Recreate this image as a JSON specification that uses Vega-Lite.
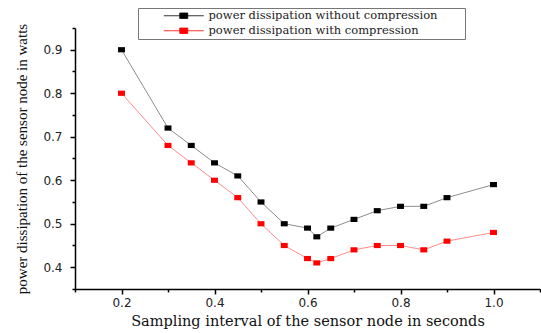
{
  "$schema": "https://vega.github.io/schema/vega-lite/v6.json",
  "width": 465,
  "height": 261,
  "autosize": "none",
  "padding": {"left": 75, "top": 28, "right": 1, "bottom": 44},
  "background": "white",
  "config": {"view": {"stroke": null}},
  "data": {
    "values": [
      {"interval": 0.2, "power": 0.9, "series": "power dissipation without compression"},
      {"interval": 0.3, "power": 0.72, "series": "power dissipation without compression"},
      {"interval": 0.35, "power": 0.68, "series": "power dissipation without compression"},
      {"interval": 0.4, "power": 0.64, "series": "power dissipation without compression"},
      {"interval": 0.45, "power": 0.61, "series": "power dissipation without compression"},
      {"interval": 0.5, "power": 0.55, "series": "power dissipation without compression"},
      {"interval": 0.55, "power": 0.5, "series": "power dissipation without compression"},
      {"interval": 0.6, "power": 0.49, "series": "power dissipation without compression"},
      {"interval": 0.62, "power": 0.47, "series": "power dissipation without compression"},
      {"interval": 0.65, "power": 0.49, "series": "power dissipation without compression"},
      {"interval": 0.7, "power": 0.51, "series": "power dissipation without compression"},
      {"interval": 0.75, "power": 0.53, "series": "power dissipation without compression"},
      {"interval": 0.8, "power": 0.54, "series": "power dissipation without compression"},
      {"interval": 0.85, "power": 0.54, "series": "power dissipation without compression"},
      {"interval": 0.9, "power": 0.56, "series": "power dissipation without compression"},
      {"interval": 1.0, "power": 0.59, "series": "power dissipation without compression"},
      {"interval": 0.2, "power": 0.8, "series": "power dissipation with compression"},
      {"interval": 0.3, "power": 0.68, "series": "power dissipation with compression"},
      {"interval": 0.35, "power": 0.64, "series": "power dissipation with compression"},
      {"interval": 0.4, "power": 0.6, "series": "power dissipation with compression"},
      {"interval": 0.45, "power": 0.56, "series": "power dissipation with compression"},
      {"interval": 0.5, "power": 0.5, "series": "power dissipation with compression"},
      {"interval": 0.55, "power": 0.45, "series": "power dissipation with compression"},
      {"interval": 0.6, "power": 0.42, "series": "power dissipation with compression"},
      {"interval": 0.62, "power": 0.41, "series": "power dissipation with compression"},
      {"interval": 0.65, "power": 0.42, "series": "power dissipation with compression"},
      {"interval": 0.7, "power": 0.44, "series": "power dissipation with compression"},
      {"interval": 0.75, "power": 0.45, "series": "power dissipation with compression"},
      {"interval": 0.8, "power": 0.45, "series": "power dissipation with compression"},
      {"interval": 0.85, "power": 0.44, "series": "power dissipation with compression"},
      {"interval": 0.9, "power": 0.46, "series": "power dissipation with compression"},
      {"interval": 1.0, "power": 0.48, "series": "power dissipation with compression"}
    ]
  },
  "encoding": {
    "x": {
      "field": "interval", "type": "quantitative",
      "scale": {"domain": [0.1, 1.1], "nice": false, "zero": false},
      "axis": {
        "title": "Sampling interval of the sensor node in seconds",
        "values": [0.1, 0.2, 0.3, 0.4, 0.5, 0.6, 0.7, 0.8, 0.9, 1.0, 1.1],
        "labelExpr": "round(datum.value*10)%2==0 ? format(datum.value,'.1f') : ''",
        "grid": false,
        "domainColor": "black", "domainWidth": 1.5,
        "tickColor": "black", "tickWidth": 1.5,
        "tickSize": {"condition": {"test": "round(datum.value*10)%2==0", "value": 5}, "value": 3},
        "labelFont": "DejaVu Sans", "labelFontSize": 12, "labelColor": "#222",
        "labelPadding": 3,
        "titleFont": "DejaVu Serif", "titleFontSize": 14.5, "titleFontWeight": "normal",
        "titleColor": "#111", "titlePadding": 6
      }
    },
    "y": {
      "field": "power", "type": "quantitative",
      "scale": {"domain": [0.35, 0.95], "nice": false, "zero": false},
      "axis": {
        "title": "power dissipation of the sensor node in watts",
        "values": [0.35, 0.4, 0.45, 0.5, 0.55, 0.6, 0.65, 0.7, 0.75, 0.8, 0.85, 0.9, 0.95],
        "labelExpr": "round(datum.value*100)%10==0 ? format(datum.value,'.1f') : ''",
        "grid": false,
        "domainColor": "black", "domainWidth": 1.5,
        "tickColor": "black", "tickWidth": 1.5,
        "tickSize": {"condition": {"test": "round(datum.value*100)%10==0", "value": 5}, "value": 3},
        "labelFont": "DejaVu Sans", "labelFontSize": 12, "labelColor": "#222",
        "labelPadding": 8,
        "titleFont": "Liberation Serif", "titleFontSize": 15, "titleFontWeight": "normal",
        "titleColor": "#111", "titlePadding": 13
      }
    },
    "color": {
      "field": "series", "type": "nominal",
      "scale": {
        "domain": ["power dissipation without compression", "power dissipation with compression"],
        "range": ["black", "#ff0000"]
      },
      "legend": {
        "title": null,
        "orient": "none",
        "legendX": 63,
        "legendY": -20,
        "direction": "vertical",
        "fillColor": "white",
        "strokeColor": "#777",
        "padding": 2,
        "rowPadding": 2,
        "symbolType": "M-4,0H4M-0.8,-0.55H0.8V0.55H-0.8Z",
        "symbolSize": 100,
        "symbolOffset": 38,
        "symbolStrokeWidth": 0.8,
        "symbolOpacity": 1,
        "labelExpr": "datum.label + '\u2800\u2800\u2800'",
        "labelFont": "DejaVu Serif",
        "labelFontSize": 11.5,
        "labelColor": "#222",
        "labelLimit": 400,
        "labelOffset": 19
      }
    }
  },
  "layer": [
    {"mark": {"type": "line", "strokeWidth": 1, "opacity": 0.45}},
    {"mark": {"type": "point", "shape": "M-1,-0.75H1V0.75H-1Z", "size": 48, "filled": true, "opacity": 1}}
  ]
}
